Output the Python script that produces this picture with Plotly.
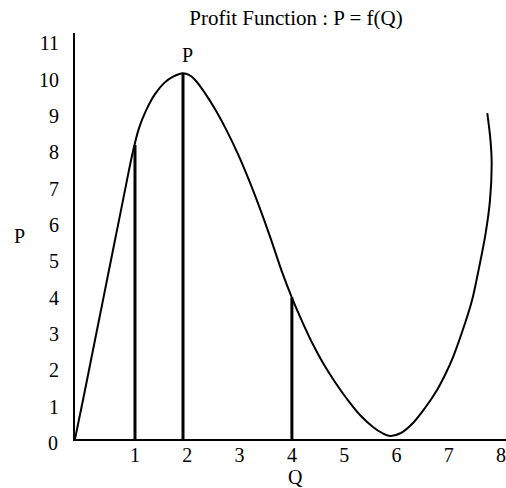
import plotly.graph_objects as go

# Profit curve P = f(Q), traced as a smooth line
q_curve = [-0.147, 0.006, 0.159, 0.312, 0.465, 0.618, 0.771, 0.885, 0.981, 1.077,
           1.210, 1.382, 1.555, 1.727, 1.918, 2.033, 2.147, 2.338, 2.549, 2.759,
           2.969, 3.180, 3.390, 3.600, 3.811, 3.996, 4.193, 4.394, 4.595, 4.824,
           5.054, 5.302, 5.551, 5.713, 5.876, 6.086, 6.316, 6.545, 6.776, 6.927,
           7.082, 7.312, 7.446, 7.581, 7.705, 7.788, 7.820, 7.797, 7.736]
p_curve = [0.110, 1.183, 2.283, 3.383, 4.483, 5.583, 6.683, 7.508, 8.141, 8.663,
           9.145, 9.598, 9.901, 10.080, 10.176, 10.127, 9.994, 9.626, 9.142, 8.581,
           7.948, 7.233, 6.449, 5.602, 4.708, 4.015, 3.355, 2.737, 2.200, 1.678,
           1.210, 0.770, 0.440, 0.283, 0.193, 0.275, 0.550, 0.963, 1.458, 1.870,
           2.365, 3.300, 3.933, 4.840, 5.776, 6.683, 7.701, 8.333, 9.076]

# Vertical drop lines from the curve to the Q axis
drop_q = [1.0, 1.918, 4.0]
drop_p = [8.2, 10.17, 4.0]

x_ticks = [1, 2, 3, 4, 5, 6, 7, 8]
y_ticks = [1, 2, 3, 4, 5, 6, 7, 8, 9, 10, 11]

FONT = "Liberation Serif"

fig = go.Figure()

for q, p in zip(drop_q, drop_p):
    fig.add_trace(go.Scatter(x=[q, q], y=[0, p], mode="lines",
                             line=dict(color="black", width=3),
                             hoverinfo="skip", showlegend=False))

fig.add_trace(go.Scatter(x=q_curve, y=p_curve, mode="lines",
                         line=dict(color="black", width=2, shape="spline", smoothing=1.0),
                         showlegend=False))

fig.update_layout(
    width=506, height=488,
    margin=dict(l=75, r=0, t=33, b=49),
    paper_bgcolor="white", plot_bgcolor="white",
    font=dict(family=FONT, size=20, color="black"),
    title=dict(text="Profit Function : P = f(Q)", xref="container", yref="container",
               x=296 / 506, y=1 - 18 / 488, xanchor="center", yanchor="middle",
               font=dict(family=FONT, size=21, color="black")),
    xaxis=dict(range=[-0.147, 8.094], tickvals=x_ticks, showgrid=False, zeroline=False,
               showline=True, linecolor="black", linewidth=2, ticks="",
               ticklabelstandoff=-3, ticklabeloverflow="allow", fixedrange=True),
    yaxis=dict(range=[0.11, 11.28], tickvals=y_ticks, showgrid=False, zeroline=False,
               showline=True, linecolor="black", linewidth=2, ticks="",
               ticklabelstandoff=10, fixedrange=True),
    annotations=[
        dict(text="P", x=2.01, y=10.67, xref="x", yref="y", showarrow=False,
             xanchor="center", yanchor="middle"),
        # origin label of the P axis, sitting just below the Q axis line
        dict(text="0", x=(60 - 75) / 431, y=(439 - 443) / 406, xref="paper", yref="paper",
             showarrow=False, xanchor="right", yanchor="middle"),
        dict(text="P", x=(20 - 75) / 431, y=(439 - 236) / 406, xref="paper", yref="paper",
             showarrow=False, xanchor="center", yanchor="middle"),
        dict(text="Q", x=(295 - 75) / 431, y=(439 - 477) / 406, xref="paper", yref="paper",
             showarrow=False, xanchor="center", yanchor="middle"),
    ],
)

fig.write_html("out.html")
